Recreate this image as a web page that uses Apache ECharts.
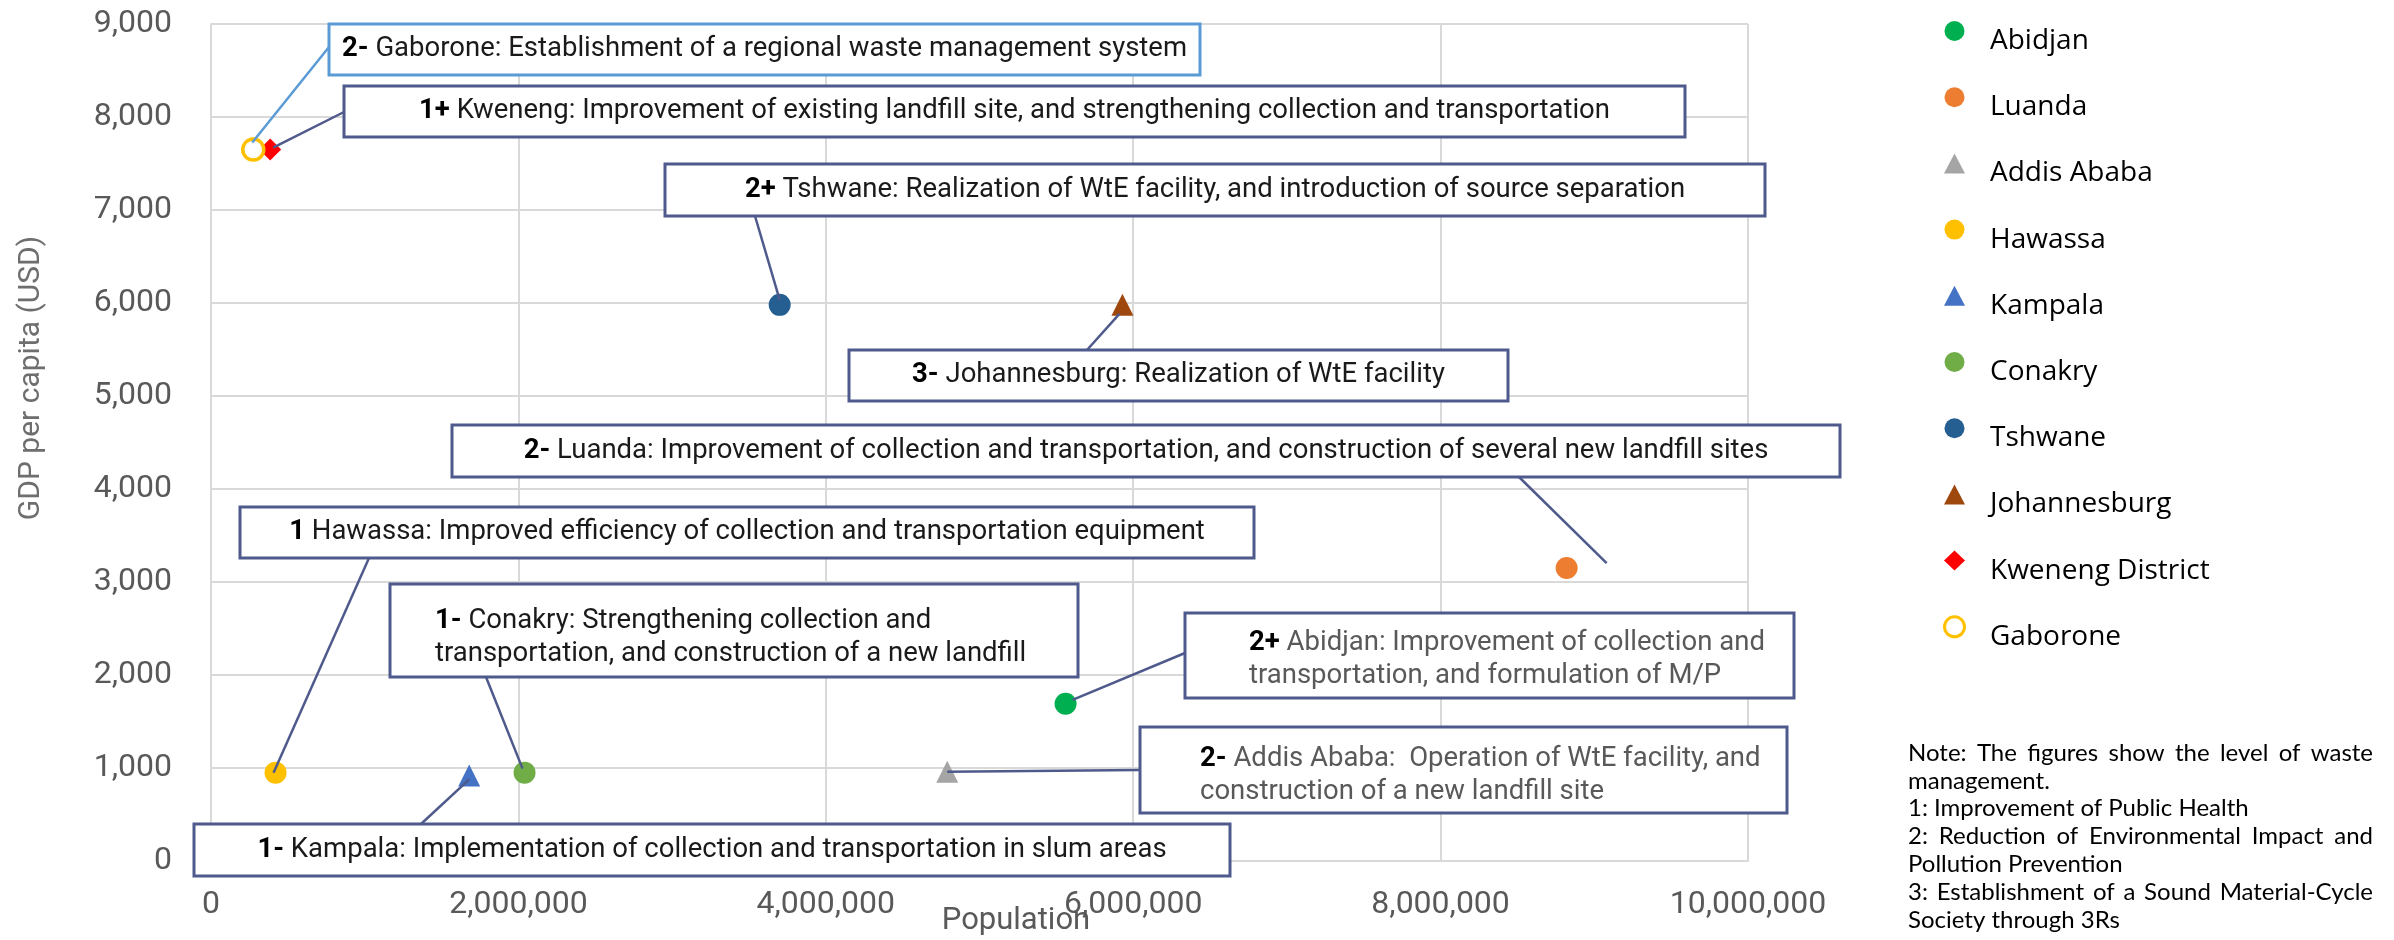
<!DOCTYPE html>
<html>
<head>
<meta charset="utf-8">
<script src="https://cdn.jsdelivr.net/npm/echarts@6/dist/echarts.min.js"></script>
<style>
html,body{margin:0;padding:0;background:#fff;}
#chart{width:2394px;height:940px;}
</style>
</head>
<body>
<div id="chart"></div>
<script>
// ---------- data ----------
const cities = ['Abidjan', 'Luanda', 'Addis Ababa', 'Hawassa', 'Kampala', 'Conakry', 'Tshwane', 'Johannesburg', 'Kweneng District', 'Gaborone'];
const population = [5560000, 8820000, 4790000, 420000, 1680000, 2040000, 3700000, 5930000, 385000, 275000];
const gdpPerCapita = [1690, 3150, 960, 950, 920, 950, 5980, 5980, 7650, 7650];

const xAxisRange = { min: 0, max: 10000000, interval: 2000000 };
const yAxisRange = { min: 0, max: 9000, interval: 1000 };
const xAxisTitle = 'Population';
const yAxisTitle = 'GDP per capita (USD)';

// annotation texts: level prefix + text lines, keyed by city
const annotationCity = ['Gaborone', 'Kweneng District', 'Tshwane', 'Johannesburg', 'Luanda', 'Hawassa', 'Conakry', 'Abidjan', 'Addis Ababa', 'Kampala'];
const annotationLevel = ['2-', '1+', '2+', '3-', '2-', '1', '1-', '2+', '2-', '1-'];
const annotationLines = [
  ['Gaborone: Establishment of a regional waste management system'],
  ['Kweneng: Improvement of existing landfill site, and strengthening collection and transportation'],
  ['Tshwane: Realization of WtE facility, and introduction of source separation'],
  ['Johannesburg: Realization of WtE facility'],
  ['Luanda: Improvement of collection and transportation, and construction of several new landfill sites'],
  ['Hawassa: Improved efficiency of collection and transportation equipment'],
  ['Conakry: Strengthening collection and', 'transportation, and construction of a new landfill'],
  ['Abidjan: Improvement of collection and', 'transportation, and formulation of M/P'],
  ['Addis Ababa:  Operation of WtE facility, and', 'construction of a new landfill site'],
  ['Kampala: Implementation of collection and transportation in slum areas']
];

const noteLines = [
  'Note: The figures show the level of waste',
  'management.',
  '1: Improvement of Public Health',
  '2: Reduction of Environmental Impact and',
  'Pollution Prevention',
  '3: Establishment of a Sound Material-Cycle',
  'Society through 3Rs'
];

// ---------- styles / layout ----------
const markerColors = ['#00B050', '#ED7D31', '#A5A5A5', '#FFC000', '#4472C4', '#70AD47', '#255E91', '#9E480E', '#FF0000', '#FFC000'];
const markerShapes = ['circle', 'circle', 'triangle', 'circle', 'triangle', 'circle', 'circle', 'triangle', 'diamond', 'ring'];
const markerSizes = [22, 22, 22, 22, 22, 22, 22, 22, 22, 21];

const BOX_DARK = '#4F5A8C';
const BOX_LIGHT = '#5B9BD5';
// box: x,y,w,h ; anchor = where leader leaves the box ; tip = offset from the point centre
// textX = null => centered single line ; else left aligned multi-line starting at textX, firstY = first line centre
const annotationLayout = [
  { x: 329, y: 24, w: 871, h: 51, anchor: [329, 47], tip: [-1, -7], border: BOX_LIGHT },
  { x: 344, y: 86, w: 1341, h: 51, anchor: [344, 112], tip: [3, -2], border: BOX_DARK },
  { x: 665, y: 164, w: 1100, h: 52, anchor: [755, 216], tip: [0, -5], border: BOX_DARK },
  { x: 849, y: 350, w: 659, h: 51, anchor: [1087, 350], tip: [-3, 9], border: BOX_DARK },
  { x: 452, y: 425, w: 1388, h: 52, anchor: [1519, 477], tip: [40, -5], border: BOX_DARK },
  { x: 240, y: 507, w: 1014, h: 51, anchor: [369, 558], tip: [-2, 0], border: BOX_DARK },
  { x: 390, y: 584, w: 688, h: 93, anchor: [486, 677], tip: [-2, -4], border: BOX_DARK, textX: 435, firstY: 621 },
  { x: 1185, y: 613, w: 609, h: 85, anchor: [1185, 653], tip: [7, -4], border: BOX_DARK, textX: 1249, firstY: 643, grey: true },
  { x: 1140, y: 727, w: 647, h: 86, anchor: [1140, 770], tip: [0, 0], border: BOX_DARK, textX: 1200, firstY: 759, grey: true },
  { x: 194, y: 824, w: 1036, h: 52, anchor: [421, 824], tip: [0, 4], border: BOX_DARK }
];

const BOX_FONT = 'Roboto';
const BOX_FONT_SIZE = 27.5;
const BOX_LINE_H = 33;
const AXIS_GREY = '#595959';
const GRID_GREY = '#D9D9D9';

const chart = echarts.init(document.getElementById('chart'), null, { renderer: 'canvas' });

const series = cities.map((name, i) => {
  const ring = markerShapes[i] === 'ring';
  return {
    name: name,
    type: 'scatter',
    data: [[population[i], gdpPerCapita[i]]],
    symbol: ring ? 'circle' : markerShapes[i],
    symbolSize: markerSizes[i],
    itemStyle: ring
      ? { color: '#FFFFFF', borderColor: markerColors[i], borderWidth: 3.5, opacity: 1 }
      : { color: markerColors[i], opacity: 1 },
    emphasis: { disabled: true },
    z: 3
  };
});

const legendData = cities.map((name, i) => {
  const ring = markerShapes[i] === 'ring';
  return {
    name: name,
    icon: ring ? 'circle' : markerShapes[i],
    itemStyle: ring
      ? { color: '#FFFFFF', borderColor: markerColors[i], borderWidth: 3 }
      : { color: markerColors[i], borderWidth: 0 }
  };
});

const fmt = v => Number(v).toLocaleString('en-US');

chart.setOption({
  animation: false,
  backgroundColor: '#FFFFFF',
  grid: { left: 211, right: 646, top: 24, bottom: 79, containLabel: false },
  xAxis: {
    type: 'value', min: xAxisRange.min, max: xAxisRange.max, interval: xAxisRange.interval,
    axisLine: { show: true, lineStyle: { color: GRID_GREY, width: 2 } },
    axisTick: { show: false },
    splitLine: { show: true, lineStyle: { color: GRID_GREY, width: 2 } },
    axisLabel: { margin: 28, fontSize: 32, fontFamily: 'Roboto', color: AXIS_GREY, formatter: fmt, showMinLabel: true, showMaxLabel: true }
  },
  yAxis: {
    type: 'value', min: yAxisRange.min, max: yAxisRange.max, interval: yAxisRange.interval,
    axisLine: { show: true, lineStyle: { color: GRID_GREY, width: 2 } },
    axisTick: { show: false },
    splitLine: { show: true, lineStyle: { color: GRID_GREY, width: 2 } },
    axisLabel: { margin: 39, fontSize: 32, fontFamily: 'Roboto', color: AXIS_GREY, formatter: fmt }
  },
  legend: {
    orient: 'vertical', left: 1943, top: 7, padding: 0,
    itemWidth: 21, itemHeight: 20, itemGap: 18.2,
    selectedMode: false,
    formatter: name => '{t|' + name + '}',
    textStyle: {
      fontFamily: 'Open Sans', fontSize: 28, color: '#000000', lineHeight: 30,
      rich: { t: { fontFamily: 'Open Sans', fontSize: 28, color: '#000000', lineHeight: 30, padding: [20, 0, 0, 20] } }
    },
    data: legendData
  },
  series: series
});

// ---------- annotations (graphic) ----------
const measureCtx = document.createElement('canvas').getContext('2d');
const graphics = [];

annotationCity.forEach((city, k) => {
  const L = annotationLayout[k];
  const idx = cities.indexOf(city);
  const p = chart.convertToPixel({ xAxisIndex: 0, yAxisIndex: 0 }, [population[idx], gdpPerCapita[idx]]);
  graphics.push({
    type: 'line', z: 10, silent: true,
    shape: { x1: L.anchor[0], y1: L.anchor[1], x2: p[0] + L.tip[0], y2: p[1] + L.tip[1] },
    style: { stroke: L.border, lineWidth: 2.5 }
  });
  graphics.push({
    type: 'rect', z: 10, silent: true,
    shape: { x: L.x, y: L.y, width: L.w, height: L.h },
    style: { fill: '#FFFFFF', stroke: L.border, lineWidth: 3 }
  });
  const lines = annotationLines[k];
  const txt = '{b|' + annotationLevel[k] + '} ' + lines.join('\n');
  const bodyColor = L.grey ? '#595959' : '#1A1A1A';
  const multi = L.textX != null;
  graphics.push({
    type: 'text', z: 11, silent: true,
    x: multi ? L.textX : L.x + L.w / 2,
    y: multi ? L.firstY - BOX_LINE_H / 2 : L.y + L.h / 2,
    style: {
      text: txt,
      fontFamily: BOX_FONT, fontSize: BOX_FONT_SIZE, fill: bodyColor,
      lineHeight: BOX_LINE_H,
      align: multi ? 'left' : 'center', textAlign: multi ? 'left' : 'center',
      verticalAlign: multi ? 'top' : 'middle', textVerticalAlign: multi ? 'top' : 'middle',
      rich: {
        b: { fontFamily: BOX_FONT, fontSize: BOX_FONT_SIZE, fontWeight: 'bold', fill: '#000000', lineHeight: BOX_LINE_H }
      }
    }
  });
});

// axis titles
graphics.push({
  type: 'text', z: 5, silent: true, x: 31, y: 378, rotation: Math.PI / 2,
  style: { text: yAxisTitle, fontFamily: 'Roboto', fontSize: 30, fill: '#6E6E6E',
    align: 'center', textAlign: 'center', verticalAlign: 'middle', textVerticalAlign: 'middle' }
});
graphics.push({
  type: 'text', z: 5, silent: true, x: 1016, y: 906,
  style: { text: xAxisTitle, fontFamily: 'Roboto', fontSize: 31, fill: AXIS_GREY,
    align: 'center', textAlign: 'center', verticalAlign: 'top', textVerticalAlign: 'top' }
});

// note (justified lines)
const NOTE_FONT = 'Lato';
const NOTE_SIZE = 24;
const noteX0 = 1908, noteX1 = 2373;
const noteY = [753, 781, 808, 836, 864, 892, 920];
const noteJustify = [true, false, false, true, false, true, false];
measureCtx.font = NOTE_SIZE + 'px ' + NOTE_FONT;
noteLines.forEach((line, i) => {
  if (!noteJustify[i]) {
    graphics.push({ type: 'text', z: 5, silent: true, x: noteX0, y: noteY[i],
      style: { text: line, fontFamily: NOTE_FONT, fontSize: NOTE_SIZE, fill: '#000000',
        align: 'left', textAlign: 'left', verticalAlign: 'middle', textVerticalAlign: 'middle' } });
    return;
  }
  const words = line.split(' ');
  const widths = words.map(w => measureCtx.measureText(w).width);
  const total = widths.reduce((a, b) => a + b, 0);
  const gap = (noteX1 - noteX0 - total) / (words.length - 1);
  let x = noteX0;
  words.forEach((w, j) => {
    graphics.push({ type: 'text', z: 5, silent: true, x: x, y: noteY[i],
      style: { text: w, fontFamily: NOTE_FONT, fontSize: NOTE_SIZE, fill: '#000000',
        align: 'left', textAlign: 'left', verticalAlign: 'middle', textVerticalAlign: 'middle' } });
    x += widths[j] + gap;
  });
});

chart.setOption({ graphic: graphics });
</script>
</body>
</html>
